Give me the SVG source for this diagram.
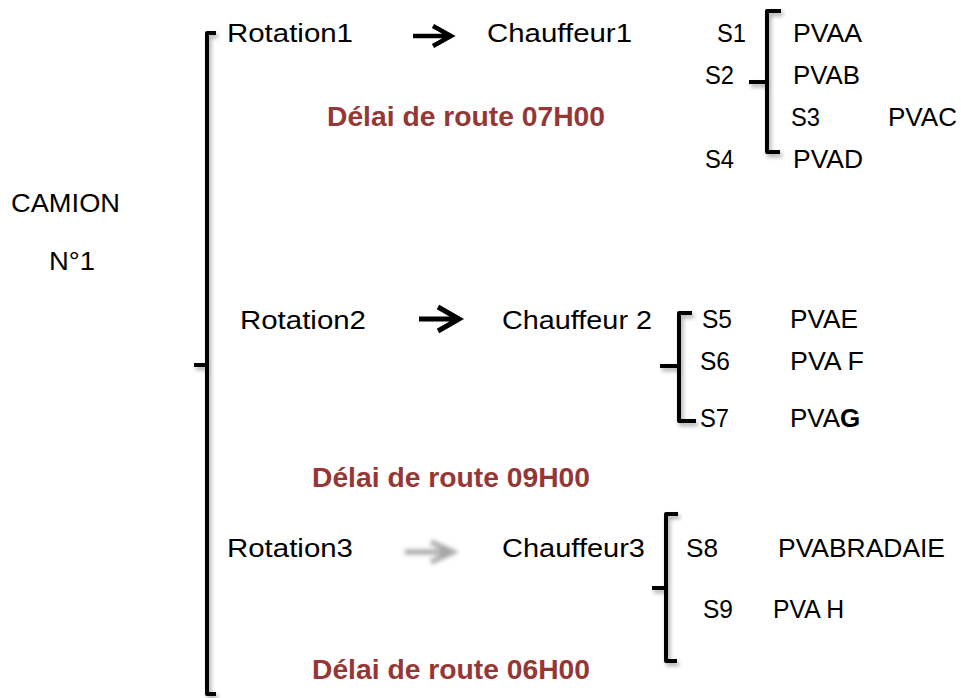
<svg xmlns="http://www.w3.org/2000/svg" width="961" height="698" viewBox="0 0 961 698">
  <defs>
    <filter id="soft" x="-50%" y="-10%" width="200%" height="120%">
      <feGaussianBlur in="SourceAlpha" stdDeviation="2"/>
      <feOffset dx="2" dy="3" result="b"/>
      <feComponentTransfer><feFuncA type="linear" slope="0.35"/></feComponentTransfer>
      <feMerge><feMergeNode/><feMergeNode in="SourceGraphic"/></feMerge>
    </filter>
    <filter id="haze" x="-30%" y="-80%" width="160%" height="260%">
      <feGaussianBlur stdDeviation="2.2"/>
    </filter>
  </defs>
  <style>
    text { font-family: "Liberation Sans", Arial, sans-serif; font-size: 26px; fill: #000; }
    .delai { font-weight: bold; font-size: 27px; fill: #953735; }
    .brace { fill: none; stroke: #000; stroke-width: 4; stroke-linejoin: round; }
    .arrow { fill: none; stroke: #000; stroke-width: 4.5; stroke-linecap: butt; stroke-linejoin: miter; }
    .arrow.thick { stroke-width: 5; }
    .arrow.faded { stroke: #a6a6a6; stroke-width: 5; }
  </style>
  <rect width="961" height="698" fill="#fff"/>

  <!-- truck label -->
  <g id="camion">
    <text x="11" y="212" textLength="109" lengthAdjust="spacingAndGlyphs">CAMION</text>
    <text x="49" y="270" textLength="46" lengthAdjust="spacingAndGlyphs">N°1</text>
  </g>

  <!-- braces and arrows -->
  <g id="connectors">
    <path class="brace" filter="url(#soft)" d="M216 33 H207 V694 H216 M194 365 H207"/>
    <path class="brace" filter="url(#soft)" d="M781 11 H767 V152 H780 M749 82 H767"/>
    <path class="brace" filter="url(#soft)" d="M692 313 H679 V421 H696 M660 366 H679"/>
    <path class="brace" filter="url(#soft)" d="M678 514 H666 V661 H677 M652 588 H666"/>
    <path class="arrow" d="M413 36 H450 M433 26 L451 36 L433 46"/>
    <path class="arrow thick" d="M419 319 H457 M438 307 L459 319 L438 331"/>
    <path class="arrow faded" filter="url(#haze)" d="M405 552 H452 M431 542 L453 552 L431 562"/>
  </g>

  <!-- rotation 1 -->
  <g id="rotation1">
    <text x="227" y="42" textLength="126" lengthAdjust="spacingAndGlyphs">Rotation1</text>
    <text x="487" y="42" textLength="145" lengthAdjust="spacingAndGlyphs">Chauffeur1</text>
    <text class="delai" x="327" y="126" textLength="278" lengthAdjust="spacingAndGlyphs">Délai de route 07H00</text>
  </g>
  <g id="stops1">
    <text x="717" y="42" textLength="29" lengthAdjust="spacingAndGlyphs">S1</text>
    <text x="793" y="42" textLength="69" lengthAdjust="spacingAndGlyphs">PVAA</text>
    <text x="705" y="84" textLength="29" lengthAdjust="spacingAndGlyphs">S2</text>
    <text x="793" y="84" textLength="67" lengthAdjust="spacingAndGlyphs">PVAB</text>
    <text x="791" y="126" textLength="29" lengthAdjust="spacingAndGlyphs">S3</text>
    <text x="888" y="126" textLength="69" lengthAdjust="spacingAndGlyphs">PVAC</text>
    <text x="705" y="168" textLength="29" lengthAdjust="spacingAndGlyphs">S4</text>
    <text x="793" y="168" textLength="70" lengthAdjust="spacingAndGlyphs">PVAD</text>
  </g>

  <!-- rotation 2 -->
  <g id="rotation2">
    <text x="240" y="329" textLength="126" lengthAdjust="spacingAndGlyphs">Rotation2</text>
    <text x="502" y="329" textLength="150" lengthAdjust="spacingAndGlyphs">Chauffeur 2</text>
    <text class="delai" x="312" y="487" textLength="278" lengthAdjust="spacingAndGlyphs">Délai de route 09H00</text>
  </g>
  <g id="stops2">
    <text x="702" y="328" textLength="30" lengthAdjust="spacingAndGlyphs">S5</text>
    <text x="790" y="328" textLength="68" lengthAdjust="spacingAndGlyphs">PVAE</text>
    <text x="700" y="370" textLength="30" lengthAdjust="spacingAndGlyphs">S6</text>
    <text x="790" y="370" textLength="74" lengthAdjust="spacingAndGlyphs">PVA F</text>
    <text x="700" y="427" textLength="29" lengthAdjust="spacingAndGlyphs">S7</text>
    <text x="790" y="427">PVA<tspan font-weight="bold">G</tspan></text>
  </g>

  <!-- rotation 3 -->
  <g id="rotation3">
    <text x="227" y="557" textLength="126" lengthAdjust="spacingAndGlyphs">Rotation3</text>
    <text x="502" y="557" textLength="143" lengthAdjust="spacingAndGlyphs">Chauffeur3</text>
    <text class="delai" x="312" y="679" textLength="278" lengthAdjust="spacingAndGlyphs">Délai de route 06H00</text>
  </g>
  <g id="stops3">
    <text x="686" y="557" textLength="32" lengthAdjust="spacingAndGlyphs">S8</text>
    <text x="778" y="557" textLength="167" lengthAdjust="spacingAndGlyphs">PVABRADAIE</text>
    <text x="703" y="618" textLength="30" lengthAdjust="spacingAndGlyphs">S9</text>
    <text x="773" y="618" textLength="71" lengthAdjust="spacingAndGlyphs">PVA H</text>
  </g>
</svg>
